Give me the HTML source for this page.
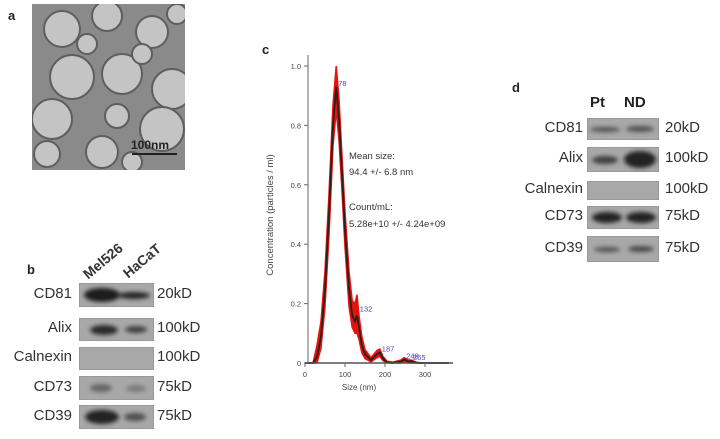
<!DOCTYPE html>
<html><head><meta charset="utf-8">
<style>
body{margin:0;background:#fff;width:720px;height:439px;position:relative;overflow:hidden;font-family:"Liberation Sans",sans-serif;color:#333}
.abs{position:absolute}
.lbl{position:absolute;font-weight:bold;font-size:13px;color:#222}
.blot{position:absolute;background:#a8a8a8;border:1px solid #999}
.band{position:absolute;border-radius:50%;filter:blur(2px)}
.rl{position:absolute;text-align:right;font-size:14px;color:#333}
.kd{position:absolute;font-size:14px;color:#333}
</style></head><body>
<div class="lbl" style="left:8px;top:8px">a</div>
<svg class="abs" style="left:32px;top:4px" width="153" height="166">
<rect width="153" height="166" fill="#8a8a8a"/>
<g fill="#c4c4c4" stroke="#5e5e5e" stroke-width="2">
<circle cx="30" cy="25" r="18"/><circle cx="75" cy="12" r="15"/><circle cx="120" cy="28" r="16"/><circle cx="145" cy="10" r="10"/>
<circle cx="40" cy="73" r="22"/><circle cx="90" cy="70" r="20"/><circle cx="140" cy="85" r="20"/><circle cx="110" cy="50" r="10"/>
<circle cx="20" cy="115" r="20"/><circle cx="85" cy="112" r="12"/><circle cx="130" cy="125" r="22"/>
<circle cx="15" cy="150" r="13"/><circle cx="70" cy="148" r="16"/><circle cx="100" cy="158" r="10"/><circle cx="55" cy="40" r="10"/>
</g>
<line x1="100" y1="150" x2="145" y2="150" stroke="#222" stroke-width="2"/>
<text x="118" y="145" font-size="12" text-anchor="middle" fill="#222" font-weight="bold" font-family="Liberation Sans">100nm</text>
</svg>

<div class="lbl" style="left:27px;top:262px">b</div>
<div class="abs" style="left:90px;top:266px;transform:rotate(-40deg);transform-origin:left bottom;font-weight:bold;font-size:14px">Mel526</div>
<div class="abs" style="left:130px;top:265px;transform:rotate(-40deg);transform-origin:left bottom;font-weight:bold;font-size:14px">HaCaT</div>
<div id="blotb"></div>

<div class="lbl" style="left:262px;top:42px">c</div>
<svg id="chart" class="abs" style="left:0;top:0" width="720" height="439"></svg>

<div class="lbl" style="left:512px;top:80px">d</div>
<div class="abs" style="left:590px;top:94px;font-weight:bold;font-size:15px;color:#222">Pt</div>
<div class="abs" style="left:624px;top:94px;font-weight:bold;font-size:15px;color:#222">ND</div>
<div id="blotd"></div>

<script>
const sizes=[0,20,30,40,50,60,70,78,85,92,100,110,118,125,130,135,142,150,165,180,187,195,205,220,240,248,258,265,280,300,360];
const conc=[0,0,0.02,0.09,0.25,0.5,0.8,0.93,0.82,0.65,0.45,0.25,0.16,0.14,0.16,0.12,0.06,0.03,0.01,0.03,0.035,0.015,0.002,0,0.005,0.012,0.005,0.006,0,0,0];
const upper=[0,0,0.06,0.14,0.31,0.57,0.87,1.0,0.89,0.71,0.51,0.31,0.21,0.2,0.23,0.16,0.09,0.045,0.018,0.042,0.047,0.022,0.006,0.003,0.01,0.018,0.01,0.01,0.002,0,0];
const lower=[0,0,0,0.05,0.19,0.43,0.73,0.85,0.75,0.59,0.39,0.19,0.12,0.1,0.1,0.08,0.035,0.015,0.004,0.018,0.022,0.008,0,0,0,0.005,0,0,0,0,0];
const yTicks=[0,0.2,0.4,0.6,0.8,1.0];
const yTickLabels=["0","0.2","0.4","0.6","0.8","1.0"];
const xTicks=[0,100,200,300];
const peaks=[78,132,187,248,265];
const peakVals=[0.93,0.17,0.035,0.012,0.006];
const X=v=>305+v*0.4, Y=v=>363-v*297;
const svg=document.getElementById('chart');const NS='http://www.w3.org/2000/svg';
function mk(t,a,name){const e=document.createElementNS(NS,t);for(const k in a)e.setAttribute(k,a[k]);


svg.appendChild(e);return e;}
let band='M'+sizes.map((s,i)=>X(s)+','+Y(upper[i])).join('L');
for(let i=sizes.length-1;i>=0;i--)band+='L'+X(sizes[i])+','+Y(lower[i]);
mk('path',{d:band+'Z',fill:'#e8120c',stroke:'#e8120c','stroke-width':1.5},'error-band');
mk('path',{d:'M'+sizes.map((s,i)=>X(s)+','+Y(conc[i])).join('L'),fill:'none',stroke:'#222','stroke-width':1.8},'mean-line');
mk('line',{x1:308,y1:55,x2:308,y2:363,stroke:'#666'},'y-axis');
mk('line',{x1:305,y1:363,x2:453,y2:363,stroke:'#555','stroke-width':1.5},'x-axis');
yTicks.forEach((t,i)=>{mk('line',{x1:304,x2:308,y1:Y(t),y2:Y(t),stroke:'#666'},'y-tick');
const tx=mk('text',{x:301,y:Y(t)+3,'font-size':7.5,'text-anchor':'end',fill:'#444'},'y-tick-label');tx.textContent=yTickLabels[i];});
xTicks.forEach(t=>{mk('line',{x1:X(t),x2:X(t),y1:363,y2:367,stroke:'#666'},'x-tick');
const tx=mk('text',{x:X(t),y:377,'font-size':7.5,'text-anchor':'middle',fill:'#444'},'x-tick-label');tx.textContent=t;});
peaks.forEach((p,i)=>{const tx=mk('text',{x:X(p)+2,y:Y(peakVals[i])-1,'font-size':7.5,fill:'#4444cc'},'peak-label');tx.textContent=p;});
let t=mk('text',{x:359,y:390,'font-size':8,'text-anchor':'middle',fill:'#444'},'x-axis-title');t.textContent='Size (nm)';
t=mk('text',{x:0,y:0,'font-size':9.5,'text-anchor':'middle',fill:'#444',transform:'translate(273,215) rotate(-90)'},'y-axis-title');t.textContent='Concentration (particles / ml)';
[['Mean size:',159],['94.4 +/- 6.8 nm',175],['Count/mL:',210],['5.28e+10 +/- 4.24e+09',227]].forEach(a=>{t=mk('text',{x:349,y:a[1],'font-size':9.5,fill:'#333'},'annotation');t.textContent=a[0];});

function blots(id,rows,box,labX,kdX,fs){
const c=document.getElementById(id);
rows.forEach(r=>{
const l=document.createElement('div');l.className='rl';l.style.cssText=`right:${720-labX}px;top:${r.y+(r.h-fs)/2-2}px;font-size:${fs}px`;l.textContent=r.n;


c.appendChild(l);
const b=document.createElement('div');b.className='blot';b.style.cssText=`left:${box[0]}px;top:${r.y}px;width:${box[1]}px;height:${r.h}px`;


r.b.forEach(bd=>{const d=document.createElement('div');d.className='band';
d.style.cssText=`left:${bd[0]}px;top:${(r.h-bd[2])/2}px;width:${bd[1]}px;height:${bd[2]}px;background:rgba(20,20,20,${bd[3]})`;


b.appendChild(d);});
c.appendChild(b);
const k=document.createElement('div');k.className='kd';k.style.cssText=`left:${kdX}px;top:${r.y+(r.h-fs)/2-2}px;font-size:${fs}px`;k.textContent=r.k;


c.appendChild(k);});
}
blots('blotb',[
{n:'CD81',k:'20kD',y:283,h:22,b:[[4,36,14,0.95],[38,32,7,0.9]]},
{n:'Alix',k:'100kD',y:318,h:21,b:[[10,28,10,0.85],[45,22,7,0.7]]},
{n:'Calnexin',k:'100kD',y:347,h:21,b:[]},
{n:'CD73',k:'75kD',y:376,h:22,b:[[10,22,8,0.45],[46,20,7,0.3]]},
{n:'CD39',k:'75kD',y:405,h:22,b:[[5,34,14,0.9],[44,22,8,0.6]]}
],[79,73],72,157,15);
blots('blotd',[
{n:'CD81',k:'20kD',y:118,h:20,b:[[2,30,5,0.6],[38,28,6,0.6]]},
{n:'Alix',k:'100kD',y:147,h:23,b:[[4,26,8,0.7],[36,32,17,0.9]]},
{n:'Calnexin',k:'100kD',y:181,h:17,b:[]},
{n:'CD73',k:'75kD',y:206,h:21,b:[[4,30,11,0.9],[38,30,11,0.9]]},
{n:'CD39',k:'75kD',y:236,h:24,b:[[6,26,5,0.6],[40,26,6,0.65]]}
],[587,70],583,665,15);
</script>
</body></html>
